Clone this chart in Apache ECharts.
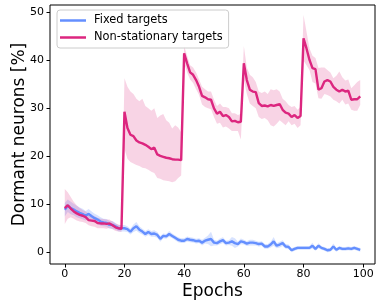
<html>
<head>
<meta charset="UTF-8">
<script src="https://cdn.jsdelivr.net/npm/echarts@6/dist/echarts.min.js"></script>
<style>body{margin:0;background:#fff}#main{width:378px;height:302px}</style>
</head>
<body>
<div id="main"></div>
<script type="text/javascript">
var epochs = [];
for (var i = 0; i < 100; i++) epochs.push(i);

var xTicks = [0, 20, 40, 60, 80, 100];
var yTicks = [0, 10, 20, 30, 40, 50];

// Fixed targets: mean and band half width
var fixedMean = [
  8.85, 9.7, 9.2, 8.9, 8.5, 8.2, 7.95, 7.6, 8.0, 7.5, 7.1, 6.8, 6.4, 6.2, 6.1, 5.7, 5.7, 5.4, 5.0, 5.0,
  5.0, 4.8, 4.3, 5.0, 5.4, 4.7, 4.3, 3.8, 4.2, 3.8, 3.9, 3.6, 2.8, 3.4, 3.3, 3.8, 3.4, 3.0, 2.6, 2.4,
  2.4, 2.75, 2.6, 2.5, 2.3, 2.4, 2.0, 2.4, 2.6, 2.75, 2.0, 1.9, 2.25, 2.5, 1.9, 2.0, 2.25, 1.9, 1.7, 2.25,
  2.1, 1.8, 2.0, 2.0, 1.9, 1.7, 1.8, 1.2, 1.2, 1.6, 2.25, 1.35, 1.6, 1.9, 1.2, 1.1, 0.4, 0.7, 0.9, 0.9,
  0.9, 0.9, 0.9, 1.35, 0.7, 1.35, 0.9, 0.7, 0.4, 0.5, 1.2, 0.5, 0.9, 0.7, 0.7, 0.8, 0.7, 0.9, 0.7, 0.5
];
var fixedSpread = [
  1.4, 1.3, 1.3, 1.2, 1.2, 1.1, 1.1, 1.0, 1.0, 1.0, 0.9, 0.9, 0.9, 0.8, 0.8, 0.8, 0.8, 0.7, 0.7, 0.7,
  0.7, 0.6, 0.6, 0.8, 0.9, 0.7, 0.6, 0.6, 0.6, 0.6, 0.7, 0.6, 0.6, 0.5, 0.5, 0.6, 0.5, 0.5, 0.5, 0.5,
  0.5, 0.5, 0.5, 0.5, 0.5, 0.5, 0.6, 0.6, 0.9, 1.5, 0.6, 0.5, 0.6, 0.6, 0.5, 0.5, 0.9, 1.0, 0.5, 0.6,
  0.5, 0.5, 0.6, 0.6, 0.5, 0.5, 0.5, 0.5, 0.5, 0.6, 0.9, 0.5, 0.6, 0.6, 0.5, 0.5, 0.4, 0.4, 0.4, 0.4,
  0.4, 0.4, 0.4, 0.6, 0.4, 0.5, 0.4, 0.4, 0.4, 0.4, 0.6, 0.4, 0.4, 0.4, 0.4, 0.4, 0.4, 0.4, 0.4, 0.4
];

// Non-stationary targets: mean, band low, band high
var nonMean = [
  9.2, 9.8, 9.1, 8.5, 8.1, 7.8, 7.6, 7.3, 6.7, 6.6, 6.5, 6.1, 6.0, 6.0, 5.9, 6.0, 5.6, 5.2, 5.0, 4.9,
  29.3, 25.9, 24.5, 24.2, 23.3, 22.9, 22.7, 22.4, 22.0, 21.5, 21.8, 20.4, 20.1, 19.9, 19.7, 19.6, 19.4, 19.3, 19.3, 19.2,
  41.5, 39.4, 37.5, 37.0, 35.9, 34.5, 32.6, 32.3, 31.9, 31.8, 30.0, 28.9, 29.3, 28.4, 28.6, 28.2, 27.3, 27.4, 27.1, 27.2,
  39.4, 35.9, 33.9, 33.5, 33.4, 31.1, 30.5, 30.6, 30.4, 30.7, 30.5, 30.7, 30.9, 29.7, 29.1, 28.9, 28.2, 28.6, 28.0, 28.4,
  44.6, 42.5, 40.1, 38.4, 38.2, 33.9, 34.2, 35.6, 35.9, 35.6, 34.5, 33.9, 33.5, 33.9, 33.5, 33.7, 31.8, 31.9, 31.9, 32.5
];
var nonLow = [
  5.9, 7.0, 7.3, 7.0, 6.6, 6.4, 6.3, 6.1, 5.6, 5.4, 5.3, 5.0, 5.0, 5.0, 4.9, 5.1, 4.8, 4.4, 4.3, 4.2,
  21.5, 19.5, 18.8, 18.5, 18.2, 18.0, 17.6, 17.5, 17.2, 16.8, 16.5, 15.5, 15.3, 15.0, 14.9, 14.8, 14.6, 14.8, 15.5, 16.0,
  39.5, 37.5, 36.0, 35.3, 34.0, 32.8, 30.8, 30.3, 30.0, 29.8, 28.2, 26.8, 27.0, 26.0, 26.2, 25.8, 25.3, 25.3, 25.3, 23.5,
  36.0, 33.0, 31.0, 30.5, 30.0, 28.2, 27.8, 28.0, 27.5, 26.5, 26.2, 26.8, 27.5, 27.0, 26.5, 27.3, 26.5, 26.8, 25.9, 26.5,
  40.0, 39.0, 38.0, 35.5, 35.2, 32.1, 32.0, 33.0, 32.8, 32.5, 31.8, 31.5, 31.0, 31.8, 30.8, 31.0, 29.7, 29.5, 29.5, 30.7
];
var nonHigh = [
  13.2, 12.5, 11.5, 10.5, 9.8, 9.2, 8.8, 8.5, 8.0, 7.8, 7.5, 7.2, 7.0, 6.9, 6.8, 6.8, 6.4, 6.0, 5.8, 5.6,
  36.3, 34.5, 33.5, 33.0, 32.0, 31.5, 32.0, 30.5, 30.0, 29.5, 30.0, 28.0, 28.5, 28.8, 27.5, 27.0, 25.8, 26.5, 26.0, 25.0,
  43.0, 41.0, 39.0, 38.5, 37.5, 36.0, 34.5, 34.0, 33.5, 33.5, 31.8, 30.5, 31.0, 30.3, 30.3, 30.0, 29.0, 29.0, 28.6, 28.8,
  43.0, 38.5, 37.0, 36.5, 35.5, 33.5, 33.2, 33.5, 33.0, 34.0, 33.8, 34.0, 33.5, 32.0, 31.5, 30.7, 30.3, 30.5, 29.7, 30.3,
  49.5, 46.0, 42.5, 41.0, 40.5, 38.4, 38.5, 38.5, 38.0, 37.5, 36.3, 36.8, 37.7, 36.5, 35.8, 36.0, 34.2, 34.8, 35.5, 35.9
];

var blue = '#648FFF', pink = '#DC267F';
var font = 'DejaVu Sans';

function pairs(ys) {
  var out = [];
  for (var i = 0; i < epochs.length; i++) out.push([epochs[i], ys[i]]);
  return out;
}
function triples(lo, hi) {
  var out = [];
  for (var i = 0; i < epochs.length; i++) out.push([epochs[i], lo[i], hi[i]]);
  return out;
}
var fixedLo = [], fixedHi = [];
for (var i = 0; i < epochs.length; i++) {
  fixedLo.push(fixedMean[i] - fixedSpread[i]);
  fixedHi.push(fixedMean[i] + fixedSpread[i]);
}

// shaded band: one polygon through all (x, lo) and back along (x, hi)
function band(data, fill) {
  return {
    type: 'custom', silent: true, data: data,
    encode: {x: 0, y: [1, 2]},
    renderItem: function (params, api) {
      if (params.dataIndex !== 0) return null;
      var pts = [], i;
      for (i = 0; i < data.length; i++) pts.push(api.coord([data[i][0], data[i][1]]));
      for (i = data.length - 1; i >= 0; i--) pts.push(api.coord([data[i][0], data[i][2]]));
      return {type: 'polygon', shape: {points: pts}, style: {fill: fill}};
    }
  };
}

var myChart = echarts.init(document.getElementById('main'));
var option = {
  animation: false,
  textStyle: {fontFamily: font},
  grid: {left: 50, right: 3, top: 5, bottom: 38, outerBoundsMode: 'none', containLabel: false,
         show: true, borderColor: '#000', borderWidth: 1},
  legend: {
    left: 57, top: 10, orient: 'vertical',
    data: [{name: 'Fixed targets', icon: 'rect'}, {name: 'Non-stationary targets', icon: 'rect'}],
    itemWidth: 26, itemHeight: 2.5, itemGap: 6,
    padding: [5, 6, 5, 3],
    borderColor: '#cccccc', borderWidth: 1, borderRadius: 3,
    backgroundColor: 'rgba(255,255,255,0.8)',
    textStyle: {fontFamily: font, fontSize: 11.4, color: '#000', padding: [0, 0, 0, 3]}
  },
  xAxis: {
    type: 'value', min: -4.95, max: 103.95,
    name: 'Epochs', nameLocation: 'middle', nameGap: 19, nameMoveOverlap: false,
    nameTextStyle: {fontFamily: font, fontSize: 17, color: '#000'},
    axisLine: {show: false, onZero: false},
    axisTick: {show: true, length: 3.5, lineStyle: {color: '#000'}, customValues: xTicks},
    axisLabel: {fontFamily: font, fontSize: 11, color: '#000', margin: 5, customValues: xTicks},
    splitLine: {show: false}
  },
  yAxis: {
    type: 'value', min: -2.46, max: 51.56,
    name: 'Dormant neurons [%]', nameLocation: 'middle', nameGap: 22, nameMoveOverlap: false,
    nameTextStyle: {fontFamily: font, fontSize: 17, color: '#000'},
    axisLine: {show: false, onZero: false},
    axisTick: {show: true, length: 3.5, lineStyle: {color: '#000'}, customValues: yTicks},
    axisLabel: {fontFamily: font, fontSize: 11, color: '#000', margin: 6, customValues: yTicks},
    splitLine: {show: false}
  },
  series: [
    band(triples(fixedLo, fixedHi), 'rgba(100,143,255,0.25)'),
    {name: 'Fixed targets', type: 'line', data: pairs(fixedMean), symbol: 'none',
     color: blue, lineStyle: {color: blue, width: 2.4}},
    band(triples(nonLow, nonHigh), 'rgba(220,38,127,0.2)'),
    {name: 'Non-stationary targets', type: 'line', data: pairs(nonMean), symbol: 'none',
     color: pink, lineStyle: {color: pink, width: 2.4}}
  ]
};
myChart.setOption(option);
</script>
</body>
</html>
